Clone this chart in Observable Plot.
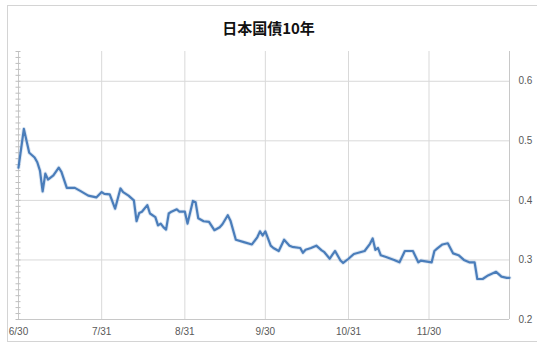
<!DOCTYPE html>
<html>
<head>
<meta charset="utf-8">
<script src="https://cdn.jsdelivr.net/npm/d3@7"></script>
<script src="https://cdn.jsdelivr.net/npm/@observablehq/plot@0.6"></script>
<style>
  html, body { margin: 0; padding: 0; background: #fff; overflow: hidden; }
  #wrap { position: relative; width: 537px; height: 345px; }
  #frame { position: absolute; left: 7px; top: 5px; width: 600px; height: 337px; border: 1px solid #d4d4d4; box-sizing: border-box; }
  #title { position: relative; height: 48px; box-sizing: border-box; padding-top: 6px; display: flex; align-items: center; justify-content: center;
           font-family: "Noto Sans CJK JP", sans-serif; font-weight: bold; font-size: 15px; color: #111; }
  #chart { position: relative; }
</style>
</head>
<body>
<div id="wrap">
  <div id="frame"></div>
  <div id="title">日本国債10年</div>
  <div id="chart"></div>
</div>
<script>
// Traced values (date, yield %)
const dates = [
  "2015-06-30","2015-07-02","2015-07-04","2015-07-06","2015-07-07","2015-07-08","2015-07-09","2015-07-10","2015-07-11","2015-07-13",
  "2015-07-15","2015-07-16","2015-07-18","2015-07-21","2015-07-23","2015-07-26","2015-07-29","2015-07-31","2015-08-01","2015-08-03",
  "2015-08-05","2015-08-07","2015-08-08","2015-08-10","2015-08-12","2015-08-13","2015-08-14","2015-08-15","2015-08-17","2015-08-18",
  "2015-08-20","2015-08-21","2015-08-22","2015-08-23","2015-08-24","2015-08-25","2015-08-26","2015-08-28","2015-08-29","2015-08-31",
  "2015-09-01","2015-09-03","2015-09-04","2015-09-05","2015-09-07","2015-09-09","2015-09-11","2015-09-13","2015-09-14","2015-09-16",
  "2015-09-17","2015-09-19","2015-09-22","2015-09-25","2015-09-27","2015-09-28","2015-09-29","2015-09-30","2015-10-02","2015-10-03",
  "2015-10-05","2015-10-07","2015-10-09","2015-10-10","2015-10-13","2015-10-14","2015-10-15","2015-10-17","2015-10-19","2015-10-21",
  "2015-10-22","2015-10-24","2015-10-25","2015-10-26","2015-10-28","2015-10-29","2015-10-31","2015-11-02","2015-11-06","2015-11-08",
  "2015-11-09","2015-11-10","2015-11-11","2015-11-12","2015-11-14","2015-11-17","2015-11-19","2015-11-21","2015-11-24","2015-11-26",
  "2015-11-27","2015-12-01","2015-12-02","2015-12-03","2015-12-05","2015-12-07","2015-12-09","2015-12-11","2015-12-13","2015-12-15",
  "2015-12-17","2015-12-18","2015-12-20","2015-12-22","2015-12-25","2015-12-27","2015-12-29","2015-12-30"
];
const yields = [
  0.455,0.520,0.480,0.472,0.464,0.450,0.415,0.445,0.435,0.442,
  0.455,0.448,0.421,0.421,0.416,0.408,0.405,0.414,0.411,0.410,
  0.386,0.420,0.414,0.408,0.400,0.365,0.379,0.381,0.392,0.378,
  0.372,0.358,0.361,0.355,0.351,0.378,0.381,0.385,0.381,0.381,
  0.361,0.399,0.397,0.370,0.365,0.364,0.350,0.355,0.360,0.375,
  0.366,0.334,0.330,0.326,0.338,0.348,0.341,0.348,0.324,0.320,
  0.315,0.334,0.324,0.322,0.320,0.312,0.317,0.320,0.324,0.316,
  0.313,0.302,0.309,0.315,0.299,0.295,0.302,0.310,0.315,0.327,
  0.336,0.317,0.320,0.308,0.305,0.300,0.296,0.315,0.315,0.296,
  0.299,0.296,0.315,0.319,0.326,0.328,0.311,0.308,0.300,0.296,
  0.296,0.268,0.268,0.274,0.280,0.272,0.270,0.270
];
const xTickDates = ["2015-06-30","2015-07-31","2015-08-31","2015-09-30","2015-10-31","2015-11-30"];
const yTicks = [0.2, 0.3, 0.4, 0.5, 0.6];
const yDomain = [0.2, 0.65];
const xDomain = ["2015-06-30", "2015-12-30"];

const parse = d3.utcParse("%Y-%m-%d");
const series = dates.map((d, i) => ({date: parse(d), value: yields[i]}));
const xTicks = xTickDates.map(parse);
const minorTicks = d3.range(20, 66).map(v => v / 100);

const plot = Plot.plot({
  width: 537,
  height: 297,
  marginLeft: 18,
  marginRight: 28,
  marginTop: 3,
  marginBottom: 26,
  style: {fontFamily: "'Liberation Sans', Arial, sans-serif", fontSize: "10px", background: "transparent"},
  x: {type: "utc", domain: xDomain.map(parse)},
  y: {domain: yDomain},
  marks: [
    Plot.ruleY(yTicks.slice(1), {stroke: "#d9d9d9", strokeWidth: 1, strokeOpacity: 1}),
    Plot.ruleX(xTicks.slice(1), {stroke: "#d9d9d9", strokeWidth: 1, strokeOpacity: 1}),
    Plot.ruleY([yDomain[0]], {stroke: "#c8c8c8", strokeWidth: 1}),
    Plot.ruleX([parse(xDomain[0])], {stroke: "#c8c8c8", strokeWidth: 1}),
    Plot.ruleX([parse(xDomain[1])], {stroke: "#c8c8c8", strokeWidth: 1}),
    Plot.axisY({anchor: "left", ticks: minorTicks, tickSize: 5, dx: 2.5, tickFormat: () => "", stroke: "#bfbfbf", label: null}),
    Plot.axisY({anchor: "right", ticks: yTicks, tickSize: 0, tickPadding: 9, tickFormat: d3.format(".1f"), fill: "#595959", label: null}),
    Plot.axisX({ticks: xTicks, tickSize: 0, tickPadding: 8, tickFormat: d3.utcFormat("%-m/%-d"), fill: "#595959", label: null}),
    Plot.line(series, {x: "date", y: "value", stroke: "#9fb9dc", strokeWidth: 4, strokeOpacity: 0.35}),
    Plot.line(series, {x: "date", y: "value", stroke: "#4a7dba", strokeWidth: 2.2, strokeLinejoin: "round"})
  ]
});
document.getElementById("chart").appendChild(plot);
</script>
</body>
</html>
